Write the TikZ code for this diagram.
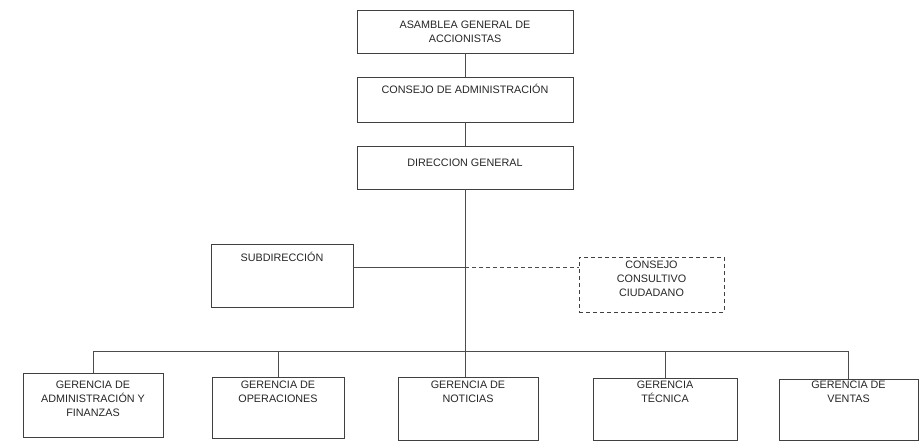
\documentclass[tikz,border=0pt]{standalone}
\usepackage{fontspec}
\setmainfont{Liberation Sans}
\begin{document}
\begin{tikzpicture}[x=1pt,y=-1pt,
	box/.style={draw=black!75, line width=0.6pt, rectangle, align=center, text=black!85,
	font=\fontsize{10.8}{14}\selectfont, text height=8pt, inner sep=0pt},
	link/.style={draw=black!70, line width=0.6pt}]
	
	\useasboundingbox (0,0) rectangle (919,441);
	
	%Asamblea general
	\node (asamblea) at (465,31.5) [box, minimum width=216, minimum height=43, text 
	height=22pt, text depth=0pt]{ASAMBLEA GENERAL DE\\ACCIONISTAS};
	
	%Consejo de administracion
	\node (consejoAdm) at (465,99.5) [box, minimum width=216, minimum height=45, text 
	depth=19.4pt]{CONSEJO DE ADMINISTRACIÓN};
	
	%Direccion general
	\node (direccion) at (465,167.5) [box, minimum width=216, minimum height=43, text 
	depth=9.4pt]{DIRECCION GENERAL};
	
	%Subdireccion
	\node (subdireccion) at (282,275.5) [box, minimum width=142, minimum height=63, text 
	depth=35.4pt]{SUBDIRECCIÓN};
	
	%Consejo consultivo
	\node (consultivo) at (651.5,284.5) [box, dash pattern=on 4pt off 3pt, minimum width=145, 
	minimum height=55, text height=36pt, text depth=11.4pt]{CONSEJO\\CONSULTIVO\\CIUDADANO};
	
	%Gerencias
	\node (gerAdm) at (93,405) [box, minimum width=140, minimum height=64, text 
	height=36pt, text depth=12.4pt]{GERENCIA DE\\ADMINISTRACIÓN Y\\FINANZAS};
	\node (gerOper) at (278,407.5) [box, minimum width=132, minimum height=61, text 
	height=22pt, text depth=31.4pt]{GERENCIA DE\\OPERACIONES};
	\node (gerNoticias) at (468,408.5) [box, minimum width=140, minimum height=63, text 
	height=22pt, text depth=33.4pt]{GERENCIA DE\\NOTICIAS};
	\node (gerTecnica) at (665,409) [box, minimum width=144, minimum height=62, text 
	height=22pt, text depth=34.4pt]{GERENCIA\\TÉCNICA};
	\node (gerVentas) at (848.5,409.5) [box, minimum width=139, minimum height=61, text 
	height=22pt, text depth=35.4pt]{GERENCIA DE\\VENTAS};
	
	%Links among blocks
	\draw[link] (asamblea) -- (consejoAdm);
	\draw[link] (consejoAdm) -- (direccion);
	\draw[link] (direccion.south) -- (direccion.south |- gerNoticias.north);
	\coordinate (cruce) at (465,267);
	\draw[link] (cruce -| subdireccion.east) -- (cruce);
	\draw[link, dash pattern=on 4pt off 3pt] (cruce) -- (cruce -| consultivo.west);
	
	%Bus to the gerencias
	\coordinate (bus) at (465,351);
	\draw[link] (bus -| gerAdm.north) -- (bus -| gerVentas.north);
	\foreach \g in {gerAdm, gerOper, gerTecnica, gerVentas}
	\draw[link] (bus -| \g.north) -- (\g.north);
	
\end{tikzpicture}
\end{document}
